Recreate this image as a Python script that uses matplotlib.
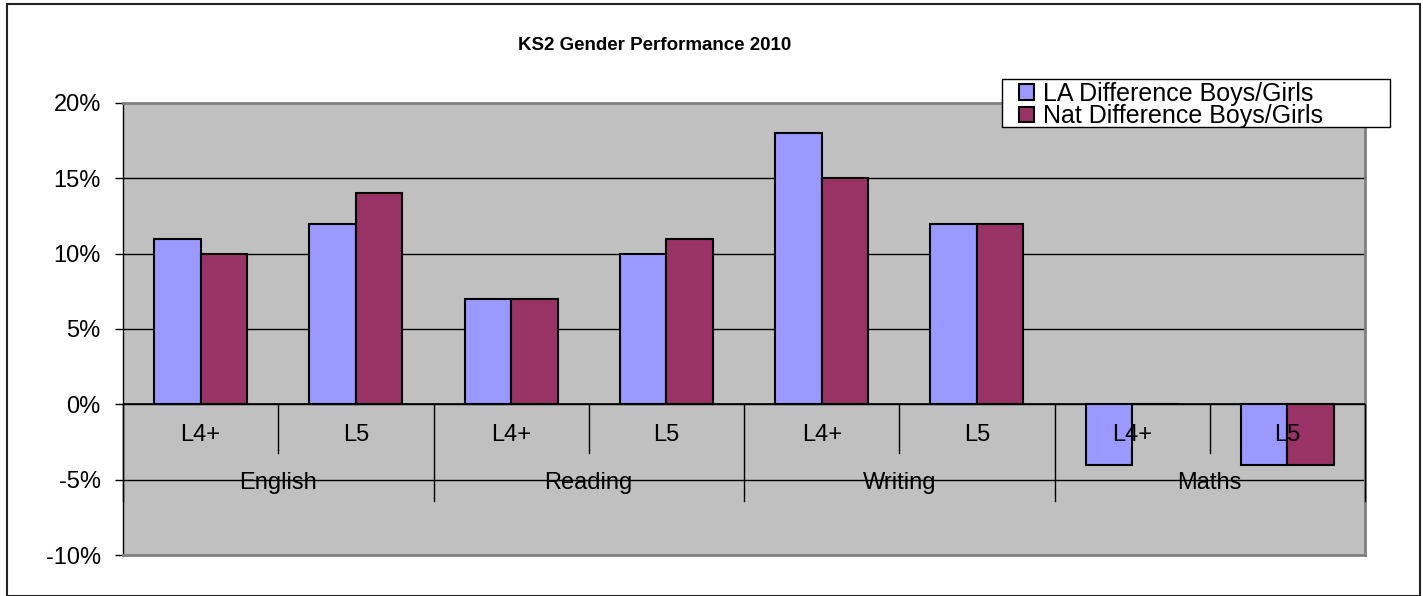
import matplotlib
matplotlib.use("Agg")
import matplotlib.pyplot as plt
from matplotlib.patches import Rectangle
import numpy as np

# ── Data ──────────────────────────────────────────────────────────────────────
subjects = ["English", "Reading", "Writing", "Maths"]
levels = ["L4+", "L5"]
la_diff = [11, 12, 7, 10, 18, 12, -4, -4]     # % LA Difference Boys/Girls
nat_diff = [10, 14, 7, 11, 15, 12, 0, -4]     # % Nat Difference Boys/Girls
y_ticks = [-10, -5, 0, 5, 10, 15, 20]

LA_COL = "#9999FF"
NAT_COL = "#993366"
BG = "#C0C0C0"
FS = 17

W, H = 1423, 596
fig = plt.figure(figsize=(W / 100, H / 100), dpi=100)
plt.rcParams["font.family"] = ["Liberation Sans", "DejaVu Sans"]

# outer chart border
fig.patches.append(Rectangle((7 / W, 0), (1420 - 7) / W, 1 - 4 / H,
                             transform=fig.transFigure, fill=False,
                             edgecolor="#222222", linewidth=1.5))

left, right, top, bottom = 123, 1365, 103, 555
ax = fig.add_axes([left / W, 1 - bottom / H, (right - left) / W, (bottom - top) / H])
ax.set_facecolor(BG)

x = np.arange(len(la_diff))
bw = 0.3
ax.bar(x - bw / 2, la_diff, bw, color=LA_COL, edgecolor="black", linewidth=1.5,
       label="LA Difference Boys/Girls", zorder=3)
ax.bar(x + bw / 2, nat_diff, bw, color=NAT_COL, edgecolor="black", linewidth=1.5,
       label="Nat Difference Boys/Girls", zorder=3)

ax.set_xlim(-0.5, len(la_diff) - 0.5)
ax.set_ylim(-10, 20)
ax.set_yticks(y_ticks)
ax.set_yticklabels([f"{v}%" for v in y_ticks], fontsize=FS)
ax.tick_params(axis="y", direction="out", length=6, width=1, pad=10)
ax.set_xticks([])

# gridlines (black)
for v in y_ticks[1:-1]:
    ax.axhline(v, color="black", linewidth=1, zorder=1)

# spines
for s in ["top", "right", "bottom"]:
    ax.spines[s].set_color("#808080")
    ax.spines[s].set_linewidth(2)
ax.spines["left"].set_color("black")
ax.spines["left"].set_linewidth(1)

# category axis at 0
ax.axhline(0, color="black", linewidth=1.2, zorder=4)
for i in range(len(la_diff) + 1):
    xi = i - 0.5
    depth = -6.4 if i % 2 == 0 else -3.2
    ax.plot([xi, xi], [0, depth], color="black", linewidth=1, zorder=4, clip_on=False)
for i in range(len(la_diff)):
    ax.text(i, -2.05, levels[i % 2], ha="center", va="center", fontsize=FS, zorder=5)
for j, s in enumerate(subjects):
    ax.text(2 * j + 0.5, -5.2, s, ha="center", va="center", fontsize=FS, zorder=5)

# title
fig.text(655 / W, 1 - 45 / H, "KS2 Gender Performance 2010", ha="center", va="center",
         fontsize=13.5, fontweight="bold")

# legend: white box drawn separately, entries placed inside it
box = Rectangle((1002 / W, 1 - 127 / H), (1390 - 1002) / W, (127 - 79) / H,
                transform=fig.transFigure, facecolor="white", edgecolor="black",
                linewidth=1, zorder=9, clip_on=False)
ax.add_patch(box)
leg = ax.legend(loc="upper left", bbox_to_anchor=(1019 / W, 1 - 81.5 / H),
                bbox_transform=fig.transFigure,
                fontsize=18, frameon=False, handlelength=0.6, handleheight=0.6,
                handletextpad=0.35, borderpad=0.0, labelspacing=-0.05,
                borderaxespad=0)
leg.set_zorder(10)

plt.savefig("out.png", dpi=100)
